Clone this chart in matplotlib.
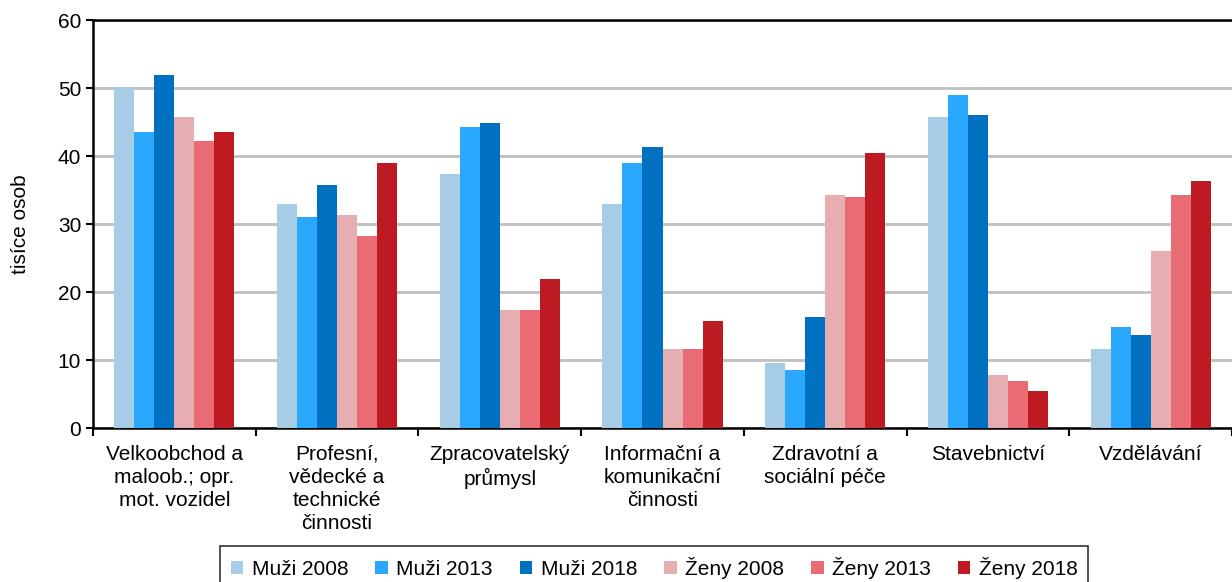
import matplotlib.pyplot as plt
import numpy as np

plt.rcParams['font.family'] = ['Liberation Sans', 'DejaVu Sans']

categories = ['Velkoobchod a\nmaloob.; opr.\nmot. vozidel',
              'Profesní,\nvědecké a\ntechnické\nčinnosti',
              'Zpracovatelský\nprůmysl',
              'Informační a\nkomunikační\nčinnosti',
              'Zdravotní a\nsociální péče',
              'Stavebnictví',
              'Vzdělávání']

series_names = ['Muži 2008', 'Muži 2013', 'Muži 2018', 'Ženy 2008', 'Ženy 2013', 'Ženy 2018']
muzi_2008 = [50.1, 33.0, 37.4, 33.0, 9.5, 45.7, 11.6]
muzi_2013 = [43.6, 31.0, 44.2, 38.9, 8.6, 48.9, 14.8]
muzi_2018 = [51.9, 35.7, 44.8, 41.3, 16.3, 46.0, 13.7]
zeny_2008 = [45.7, 31.3, 17.4, 11.6, 34.2, 7.8, 26.0]
zeny_2013 = [42.2, 28.3, 17.4, 11.6, 33.9, 6.9, 34.2]
zeny_2018 = [43.6, 38.9, 21.9, 15.7, 40.4, 5.4, 36.3]
colors = ['#a6cce6', '#29a8fe', '#0070c0', '#e6aeb0', '#e96b73', '#be1a21']

series = [muzi_2008, muzi_2013, muzi_2018, zeny_2008, zeny_2013, zeny_2018]

fig = plt.figure(figsize=(12.32, 5.82), dpi=100)
ax = fig.add_axes([0.0755, 0.2646, 0.9245, 0.701])

x = np.arange(len(categories)) + 0.5
w = 0.123
for i, (vals, name, c) in enumerate(zip(series, series_names, colors)):
    ax.bar(x + (i - 2.5) * w, vals, width=w, color=c, label=name, zorder=3)

ax.set_xlim(0, 7)
ax.set_ylim(0, 60)
ax.set_yticks(range(0, 61, 10))
ax.yaxis.grid(True, color='#c0c0c0', linewidth=2, zorder=0)
ax.set_xticks(range(0, 8))
ax.set_xticklabels([])
ax.set_xticks(x, minor=True)
ax.set_xticklabels(categories, minor=True, fontsize=15, linespacing=1.27)
ax.tick_params(axis='x', which='minor', length=0, pad=12)
ax.tick_params(axis='x', which='major', length=6, width=1.5, direction='out')
ax.tick_params(axis='y', length=5, width=1.5, labelsize=15, direction='out')
for s in ['left', 'bottom', 'top']:
    ax.spines[s].set_linewidth(1.8)
ax.spines['right'].set_visible(False)
ax.set_ylabel('tisíce osob', fontsize=15, labelpad=20)

leg = fig.legend(loc='lower center', bbox_to_anchor=(0.531, -0.03), ncol=6, fontsize=15,
                 frameon=True, fancybox=False, edgecolor='black', handlelength=0.6,
                 handleheight=0.6, handletextpad=0.4, columnspacing=1.3, borderpad=0.5)
leg.get_frame().set_linewidth(1.2)

fig.savefig('out.png', dpi=100)
